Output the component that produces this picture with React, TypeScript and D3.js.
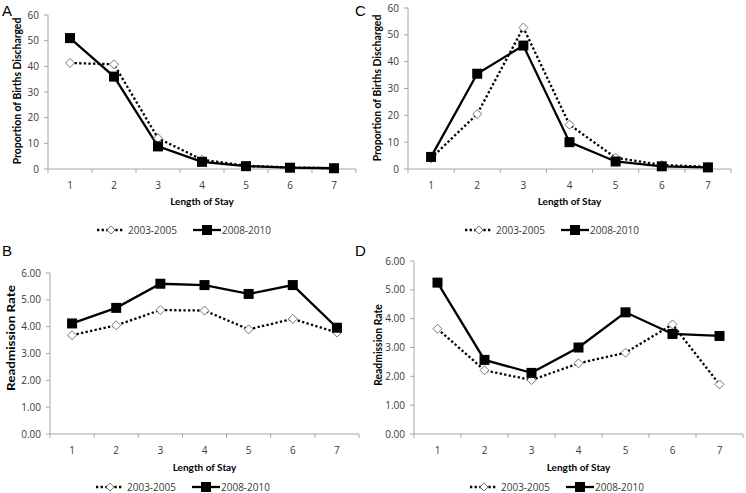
import React from "react";
import * as d3 from "d3";

const categories = ["1", "2", "3", "4", "5", "6", "7"];
const seriesNames = ["2003-2005", "2008-2010"];

const aOld = [41.3, 40.8, 12.0, 3.6, 1.3, 0.6, 0.3];
const aNew = [51.0, 36.0, 8.8, 2.8, 1.1, 0.5, 0.3];
const cOld = [4.0, 20.5, 52.7, 16.5, 4.2, 1.5, 0.8];
const cNew = [4.5, 35.5, 46.0, 10.0, 2.8, 1.0, 0.6];
const bOld = [3.68, 4.05, 4.62, 4.60, 3.90, 4.29, 3.78];
const bNew = [4.12, 4.70, 5.60, 5.55, 5.22, 5.55, 3.96];
const dOld = [3.65, 2.21, 1.87, 2.45, 2.82, 3.80, 1.72];
const dNew = [5.25, 2.57, 2.12, 3.00, 4.22, 3.47, 3.40];

const propTicks = [0, 10, 20, 30, 40, 50, 60];
const rateTicks = [0, 1, 2, 3, 4, 5, 6];

const FONT = "'Open Sans', 'Noto Sans', sans-serif";
const TFONT = "Lato, 'Open Sans', sans-serif";
const AXIS = "#a6a6a6";
const TXT = "#3a3a3a";

type PanelProps = {
  letter: string;
  letterX: number;
  letterY: number;
  oldVals: number[];
  newVals: number[];
  ticks: number[];
  fmt: (v: number) => string;
  yTitle: string;
  titleX: number;
  titleY: number;
  titleLen?: number;
  left: number;
  right: number;
  top: number;
  bottom: number;
  xLabelY: number;
  xTitleY: number;
  legendY: number;
  legendX: number;
};

function Panel(p: PanelProps) {
  const x = d3.scaleBand<string>().domain(categories).range([p.left, p.right]).padding(0);
  const y = d3.scaleLinear().domain([0, d3.max(p.ticks) as number]).range([p.bottom, p.top]);
  const bw = x.bandwidth();
  const cx = (c: string) => (x(c) as number) + bw / 2;
  const line = d3
    .line<number>()
    .x((_, i) => cx(categories[i]))
    .y((v) => y(v));
  const boundaries = categories.map((c) => x(c) as number).concat([p.right]);
  const lx = p.legendX;
  const ly = p.legendY;
  return (
    <g>
      <text x={p.letterX} y={p.letterY} fontSize={15} fontFamily="'Liberation Sans', Arial, sans-serif" fill="#000">
        {p.letter}
      </text>
      <line x1={p.left} x2={p.left} y1={p.top} y2={p.bottom} stroke={AXIS} strokeWidth={1} />
      {p.ticks.map((t) => (
        <g key={t}>
          <line x1={p.left - 4} x2={p.left} y1={y(t)} y2={y(t)} stroke={AXIS} />
          <text x={p.left - 9} y={y(t)} dy="0.36em" textAnchor="end" fontSize={10} fontFamily={FONT} fill={TXT}>
            {p.fmt(t)}
          </text>
        </g>
      ))}
      <line x1={p.left} x2={p.right} y1={p.bottom} y2={p.bottom} stroke={AXIS} strokeWidth={1} />
      {boundaries.map((b, i) => (
        <line key={i} x1={b} x2={b} y1={p.bottom} y2={p.bottom + 4} stroke={AXIS} />
      ))}
      {categories.map((c) => (
        <text key={c} x={cx(c)} y={p.xLabelY} textAnchor="middle" fontSize={10} fontFamily={FONT} fill={TXT}>
          {c}
        </text>
      ))}
      <text
        x={(p.left + p.right) / 2}
        y={p.xTitleY}
        textAnchor="middle"
        fontSize={10}
        fontWeight="bold"
        fontFamily={TFONT}
        fill="#000"
      >
        Length of Stay
      </text>
      <text
        transform={`translate(${p.titleX},${p.titleY}) rotate(-90)`}
        textAnchor="middle"
        dy="0.35em"
        fontSize={10.4}
        fontWeight="bold"
        fontFamily={TFONT}
        fill="#000"
        textLength={p.titleLen}
        lengthAdjust={p.titleLen ? "spacingAndGlyphs" : undefined}
      >
        {p.yTitle}
      </text>
      <path d={line(p.oldVals) as string} fill="none" stroke="#000" strokeWidth={2.3} strokeDasharray="2.3,2.3" />
      <path d={line(p.newVals) as string} fill="none" stroke="#000" strokeWidth={2.3} />
      {p.oldVals.map((v, i) => (
        <path
          key={"o" + i}
          d={`M${cx(categories[i])},${y(v) - 4.5}l4.5,4.5l-4.5,4.5l-4.5,-4.5z`}
          fill="#fff"
          stroke="#555"
          strokeWidth={0.8}
        />
      ))}
      {p.newVals.map((v, i) => (
        <rect key={"n" + i} x={cx(categories[i]) - 5} y={y(v) - 5} width={10} height={10} fill="#000" />
      ))}
      <line x1={lx} x2={lx + 27} y1={ly} y2={ly} stroke="#000" strokeWidth={2.3} strokeDasharray="2.3,2.3" />
      <path d={`M${lx + 14},${ly - 4}l4,4l-4,4l-4,-4z`} fill="#fff" stroke="#555" strokeWidth={0.8} />
      <text x={lx + 31} y={ly} dy="0.36em" fontSize={10} fontFamily={FONT} fill={TXT}>
        {seriesNames[0]}
      </text>
      <line x1={lx + 96} x2={lx + 124} y1={ly} y2={ly} stroke="#000" strokeWidth={2.3} />
      <rect x={lx + 105} y={ly - 5} width={10} height={10} fill="#000" />
      <text x={lx + 125} y={ly} dy="0.36em" fontSize={10} fontFamily={FONT} fill={TXT}>
        {seriesNames[1]}
      </text>
    </g>
  );
}

const f0 = (v: number) => d3.format("d")(v);
const f2 = (v: number) => d3.format(".2f")(v);

export default function App() {
  return (
    <svg width={746} height={493} style={{ position: "absolute", left: 0, top: 0, background: "#fff" }}>
      <rect width={746} height={493} fill="#fff" />
      <Panel
        letter="A" letterX={2} letterY={16}
        oldVals={aOld} newVals={aNew} ticks={propTicks} fmt={f0}
        yTitle="Proportion of Births Discharged" titleX={17} titleY={91}
        left={48} right={356} top={15} bottom={169}
        xLabelY={189} xTitleY={205} legendY={230} legendX={97}
      />
      <Panel
        letter="C" letterX={355} letterY={16}
        oldVals={cOld} newVals={cNew} ticks={propTicks} fmt={f0}
        yTitle="Proportion of Births Discharged" titleX={377} titleY={88}
        left={408} right={731} top={8} bottom={169}
        xLabelY={189} xTitleY={205} legendY={230} legendX={465}
      />
      <Panel
        letter="B" letterX={2} letterY={256}
        oldVals={bOld} newVals={bNew} ticks={rateTicks} fmt={f2}
        yTitle="Readmission Rate" titleX={11} titleY={338} titleLen={106}
        left={50} right={359} top={273} bottom={434}
        xLabelY={454} xTitleY={471} legendY={487} legendX={96}
      />
      <Panel
        letter="D" letterX={355} letterY={256}
        oldVals={dOld} newVals={dNew} ticks={rateTicks} fmt={f2}
        yTitle="Readmission Rate" titleX={378} titleY={345}
        left={414} right={743} top={261} bottom={434}
        xLabelY={454} xTitleY={471} legendY={487} legendX={470}
      />
    </svg>
  );
}
